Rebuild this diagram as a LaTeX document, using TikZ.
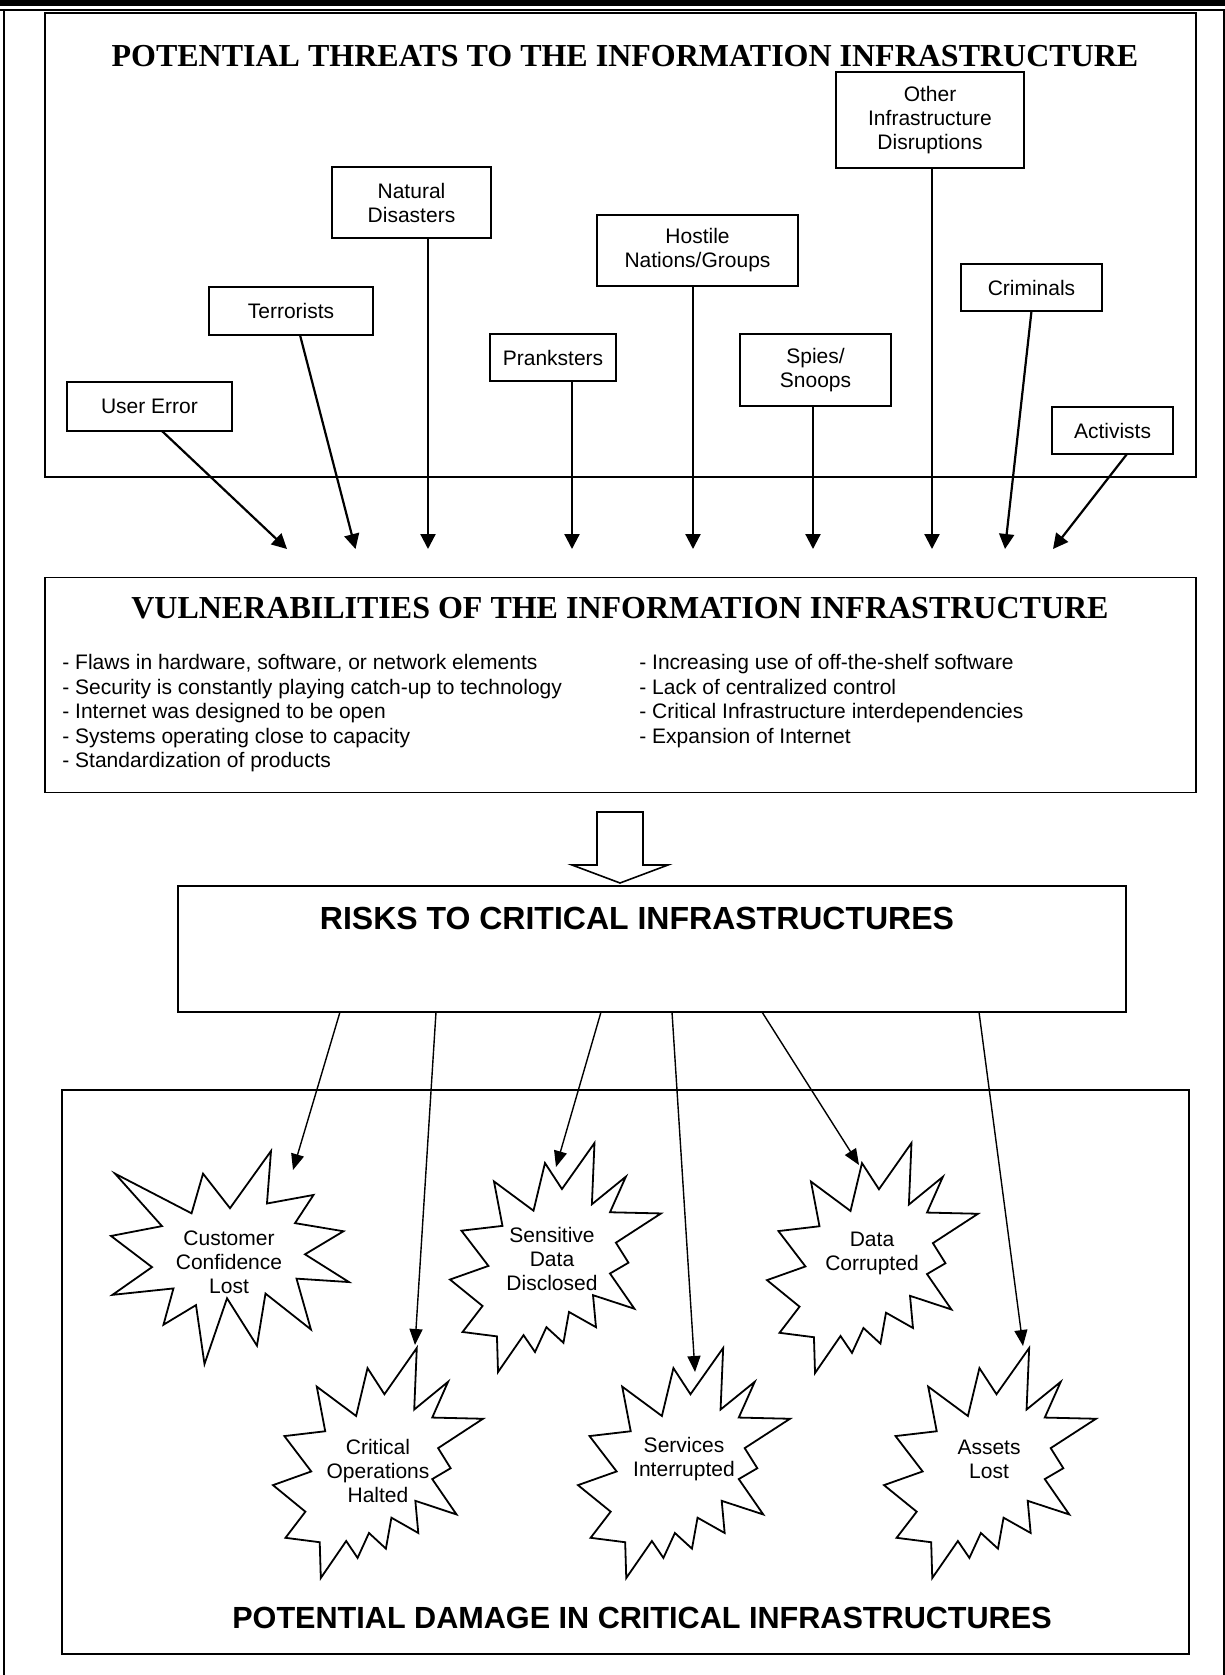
\documentclass[tikz,border=0pt]{standalone}
\usepackage{fontspec}
\setmainfont{Liberation Sans}
\newfontfamily\arial{Liberation Sans}
\newfontfamily\tnr{Liberation Serif}
\usetikzlibrary{arrows.meta,calc}
\tikzset{
  lab/.style={font=\arial\fontsize{10.5}{12}\selectfont, align=center},
  tbox/.style 2 args={draw, line width=0.8pt, outer sep=0pt, inner sep=0pt, lab, minimum width=#1*0.5pt, minimum height=#2*0.5pt},
  tarrow/.style={line width=1.1pt, -{Triangle[length=7.5pt,width=7.5pt]}},
  rarrow/.style={line width=0.7pt, -{Triangle[length=8pt,width=6.5pt]}},
  seal/.style={draw, line width=0.9pt, line join=miter, fill=white},
  vtxt/.style={font=\arial\fontsize{10.5}{12}\selectfont, anchor=base west, inner sep=0pt},
  serif title/.style={font=\tnr\bfseries\fontsize{16}{18}\selectfont, inner sep=0pt},
  sans title/.style={font=\arial\bfseries\fontsize{#1}{18}\selectfont, inner sep=0pt},
  startext/.style={lab, inner sep=0pt},
}
\newcommand\sealone[4]{\draw[seal, shift={(#1,#2)}, xscale=#3, yscale=#4]
 (0.5,0.2685) -- (0.6723,0) -- (0.6553,0.2465) -- (0.8509,0.2063) -- (0.7732,0.3387) -- (0.9767,0.3767) -- (0.8151,0.4850) -- (1,0.6153) -- (0.7795,0.5992) -- (0.8400,0.8377) -- (0.6491,0.6693) -- (0.6133,0.9138) -- (0.4876,0.6914) -- (0.3928,1) -- (0.3572,0.7235) -- (0.2205,0.8156) -- (0.2624,0.6452) -- (0.00625,0.6753) -- (0.1723,0.5451) -- (0,0.3988) -- (0.2142,0.3526) -- (0.0171,0.1063) -- (0.3385,0.2926) -- (0.3867,0.1063) -- cycle;}
\newcommand\sealtwo[4]{\draw[seal, shift={(#1,#2)}, xscale=#3, yscale=#4]
 (0.5306,0.2010) -- (0.6847,0) -- (0.6725,0.2675) -- (0.8336,0.1469) -- (0.7583,0.3024) -- (1,0.3076) -- (0.7863,0.4353) -- (0.8458,0.5227) -- (0.7583,0.5699) -- (0.8739,0.7237) -- (0.6778,0.6644) -- (0.6918,0.8042) -- (0.5639,0.7377) -- (0.5376,0.8723) -- (0.4570,0.8042) -- (0.4028,0.9126) -- (0.3485,0.8391) -- (0.2276,1) -- (0.2225,0.8444) -- (0.0595,0.8252) -- (0.1542,0.7116) -- (0,0.5962) -- (0.1822,0.5367) -- (0.0543,0.3829) -- (0.2487,0.3619) -- (0.2084,0.1678) -- (0.3958,0.2955) -- (0.4501,0.0874) -- cycle;}
\begin{document}
\begin{tikzpicture}[x=0.5pt,y=-0.5pt]
\useasboundingbox (0,0) rectangle (1225,1675);
% page frame
\fill (0,0) rectangle (1225,6);
\draw[line width=0.6pt] (0,10) -- (1225,10);
\draw[line width=1pt] (4,10) -- (4,1675);
\draw[line width=1pt] (1223.5,10) -- (1223.5,1675);

% threats panel
\node[tbox={1151}{464}] (threats) at (620.5,245) {};
\node[serif title] (ttitle) at (625,56) {POTENTIAL THREATS TO THE INFORMATION INFRASTRUCTURE};
\node[tbox={165}{49}] (user) at (149.5,406.5) {User Error};
\node[tbox={164}{48}] (terr) at (291,311) {Terrorists};
\node[tbox={159}{71}] (nat) at (411.5,202.5) {Natural\\Disasters};
\node[tbox={126}{47}] (prank) at (553,357.5) {Pranksters};
\node[tbox={201}{71}] (host) at (697.5,250.5) {Hostile\\Nations/Groups};
\node[tbox={151}{72}] (spies) at (815.5,370) {Spies/\\Snoops};
\node[tbox={188}{96}] (other) at (930,120) {Other\\Infrastructure\\Disruptions};
\node[tbox={141}{47}] (crim) at (1031.5,287.5) {Criminals};
\node[tbox={121}{47}] (act) at (1112.5,430.5) {Activists};

\coordinate (t1) at (287,549);
\coordinate (t2) at (355.5,549);
\coordinate (t3) at (428,549);
\coordinate (t4) at (572,549);
\coordinate (t5) at (693,549);
\coordinate (t6) at (813,549);
\coordinate (t7) at (932,549);
\coordinate (t8) at (1005,549);
\coordinate (t9) at (1053,549);
\draw[tarrow] ($(user.south)+(12.5,0)$) -- (t1);
\draw[tarrow] ($(terr.south)+(9,0)$) -- (t2);
\draw[tarrow] (nat.south -| t3) -- (t3);
\draw[tarrow] (prank.south -| t4) -- (t4);
\draw[tarrow] (host.south -| t5) -- (t5);
\draw[tarrow] (spies.south -| t6) -- (t6);
\draw[tarrow] (other.south -| t7) -- (t7);
\draw[tarrow] (crim.south) -- (t8);
\draw[tarrow] ($(act.south)+(14.5,0)$) -- (t9);

% vulnerabilities panel
\node[tbox={1151}{215}] (vuln) at (620.5,685) {};
\node[serif title] (vtitle) at (620,608) {VULNERABILITIES OF THE INFORMATION INFRASTRUCTURE};
\node[vtxt] (v1) at (62,669.5) {- Flaws in hardware, software, or network elements};
\node[vtxt] (v2) at (62,694) {- Security is constantly playing catch-up to technology};
\node[vtxt] (v3) at (62,718.5) {- Internet was designed to be open};
\node[vtxt] (v4) at (62,743) {- Systems operating close to capacity};
\node[vtxt] (v5) at (62,767.5) {- Standardization of products};
\node[vtxt] (v6) at (639,669.5) {- Increasing use of off-the-shelf software};
\node[vtxt] (v7) at (639,694) {- Lack of centralized control};
\node[vtxt] (v8) at (639,718.5) {- Critical Infrastructure interdependencies};
\node[vtxt] (v9) at (639,743) {- Expansion of Internet};

% hollow block arrow
\draw[line width=0.8pt, fill=white] (597,812) -- (643,812) -- (643,865) -- (668,865) -- (620,883) -- (572,865) -- (597,865) -- cycle;

% risks box
\node[tbox={948}{126}] (risks) at (652,949) {};
\node[sans title=16] (rtitle) at (637,918.5) {RISKS TO CRITICAL INFRASTRUCTURES};

% damage panel
\node[tbox={1127}{564}] (damage) at (625.5,1372) {};
\node[sans title=15.3] (dtitle) at (642,1618) {POTENTIAL DAMAGE IN CRITICAL INFRASTRUCTURES};

\sealone{111}{1151}{238}{213}
\sealtwo{450}{1143}{211}{229}
\sealtwo{767}{1143}{211}{230}
\sealtwo{273}{1348}{210}{230}
\sealtwo{578}{1348}{212}{230}
\sealtwo{884}{1348}{212}{230}

\node[startext] (cust) at (229,1262) {Customer\\Confidence\\Lost};
\node[startext] (sens) at (552,1259) {Sensitive\\Data\\Disclosed};
\node[startext] (corr) at (872,1253) {Data\\Corrupted};
\node[startext] (crit) at (378,1471) {Critical\\Operations\\Halted};
\node[startext] (serv) at (684,1459) {Services\\Interrupted};
\node[startext] (asset) at (989,1459) {Assets\\Lost};

\coordinate (r1) at (293,1170);
\coordinate (r2) at (415,1345);
\coordinate (r3) at (556,1167);
\coordinate (r4) at (695,1372);
\coordinate (r5) at (859,1165);
\coordinate (r6) at (1023,1346);
\draw[rarrow] ($(risks.south west)+(162,0)$) -- (r1);
\draw[rarrow] ($(risks.south west)+(258,0)$) -- (r2);
\draw[rarrow] ($(risks.south west)+(423,0)$) -- (r3);
\draw[rarrow] ($(risks.south west)+(494,0)$) -- (r4);
\draw[rarrow] ($(risks.south west)+(584,0)$) -- (r5);
\draw[rarrow] ($(risks.south west)+(801,0)$) -- (r6);
\end{tikzpicture}
\end{document}
